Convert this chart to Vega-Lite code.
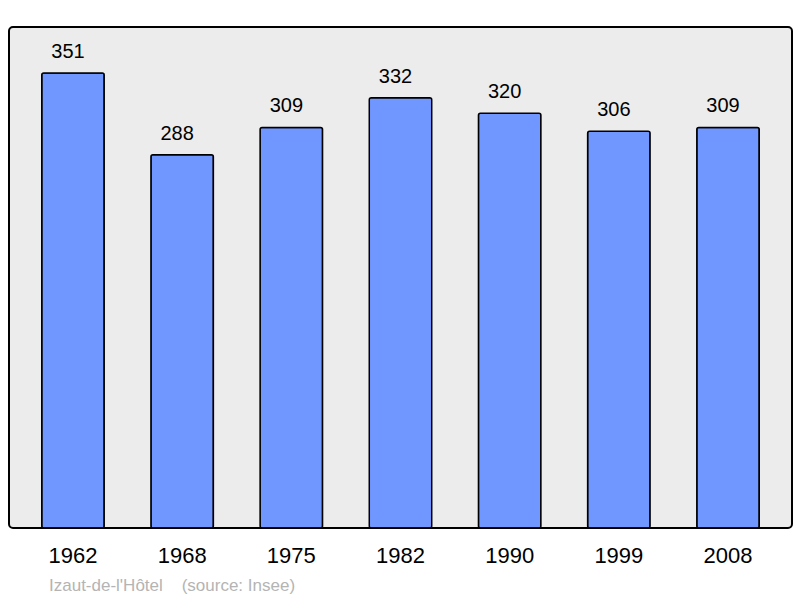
{
  "$schema": "https://vega.github.io/schema/vega-lite/v6.json",
  "width": 783,
  "height": 501,
  "autosize": "none",
  "padding": {"left": 9, "top": 27, "right": 8, "bottom": 70},
  "background": "#ffffff",
  "config": {
    "view": {"fill": "#ececec", "stroke": "#000000", "strokeWidth": 2, "cornerRadius": 4},
    "font": "Liberation Sans"
  },
  "title": {
    "text": "Izaut-de-l'Hôtel\u00a0\u00a0\u00a0\u00a0(source: Insee)",
    "orient": "bottom",
    "anchor": "start",
    "dx": 40,
    "offset": 12,
    "fontSize": 17,
    "fontWeight": "normal",
    "color": "#b4b4b4",
    "font": "Liberation Sans"
  },
  "data": {
    "values": [
      {"year": "1962", "pop": 351},
      {"year": "1968", "pop": 288},
      {"year": "1975", "pop": 309},
      {"year": "1982", "pop": 332},
      {"year": "1990", "pop": 320},
      {"year": "1999", "pop": 306},
      {"year": "2008", "pop": 309}
    ]
  },
  "encoding": {
    "x": {
      "field": "year",
      "type": "ordinal",
      "sort": null,
      "scale": {"paddingInner": 0.428, "paddingOuter": 0.3},
      "axis": {
        "title": null,
        "domain": false,
        "ticks": false,
        "labelAngle": 0,
        "labelFontSize": 22,
        "labelColor": "#000000",
        "labelPadding": 17,
        "labelFont": "Liberation Sans"
      }
    },
    "y": {
      "field": "pop",
      "type": "quantitative",
      "scale": {"domain": [0, 386.5], "nice": false},
      "axis": null
    }
  },
  "layer": [
    {
      "mark": {"type": "bar", "fill": "#7096ff", "stroke": "#000000", "strokeWidth": 1.5, "cornerRadius": 2}
    },
    {
      "mark": {"type": "text", "baseline": "alphabetic", "dy": -15, "dx": -5, "fontSize": 20, "color": "#000000", "font": "Liberation Sans"},
      "encoding": {"text": {"field": "pop", "type": "quantitative"}}
    }
  ]
}
